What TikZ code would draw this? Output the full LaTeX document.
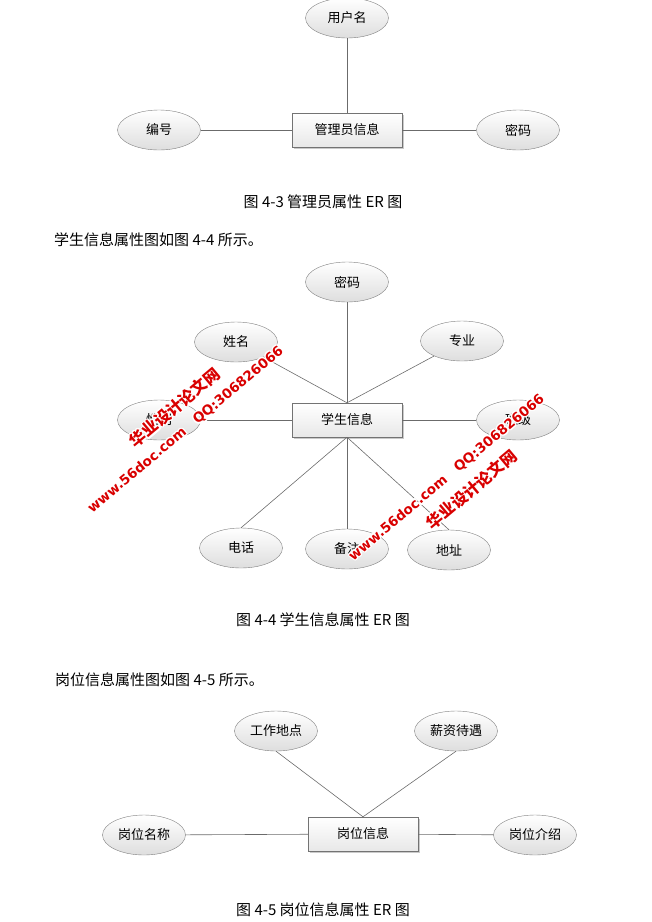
\documentclass[tikz,border=0pt]{standalone}
\usepackage{fontspec}
\setmainfont{Noto Sans CJK SC}
\newfontfamily\wmfont{DejaVu Sans}
\usepackage[copies]{contour}
\contourlength{1.2pt}
\contournumber{16}
\usetikzlibrary{shapes.geometric, shadows}

\begin{document}
\begin{tikzpicture}[x=1pt, y=-1pt,
  attr/.style={ellipse, draw=black!50, top color=white, bottom color=black!13,
    minimum width=83pt, minimum height=40pt, inner sep=0pt,
    font=\fontsize{13}{15}\selectfont},
  entity/.style={rectangle, draw=black!55, top color=white, bottom color=black!9,
    minimum width=110pt, minimum height=34pt, inner sep=0pt,
    font=\fontsize{13}{15}\selectfont,
    drop shadow={shadow xshift=1.6pt, shadow yshift=-1.6pt, opacity=0.35, fill=black!60}},
  link/.style={draw=black!58, line width=0.6pt},
  caption/.style={font=\fontsize{15}{18}\selectfont, inner sep=0pt},
  wmcn/.style={text=red!85!black, font=\bfseries\fontsize{16}{18}\selectfont, rotate=40, inner sep=0pt},
  wmen/.style={text=red!85!black, font=\wmfont\bfseries\fontsize{13.5}{16}\selectfont, rotate=40, inner sep=0pt}]
  \useasboundingbox (0,0) rectangle (652,922);

  % Figure 4-3
  \node[entity] (admin) at (347,130) {管理员信息};
  \node[attr] (uname) at (347,18) {用户名};
  \node[attr] (anum) at (159,130) {编号};
  \node[attr] (apwd) at (518,130) {密码};
  \draw[link] (admin) -- (uname);
  \draw[link] (admin) -- (anum);
  \draw[link] (admin) -- (apwd);
  \node[caption] (cap43) at (323,202) {图 4-3 管理员属性 ER 图};

  \node[caption, anchor=west] (text44) at (54,240) {学生信息属性图如图 4-4 所示。};

  % Figure 4-4
  \node[entity] (stu) at (347,420) {学生信息};
  \node[attr] (spwd) at (347,282) {密码};
  \node[attr] (sname) at (236,342) {姓名};
  \node[attr] (smajor) at (462,341) {专业};
  \node[attr] (ssex) at (159,420) {性别};
  \node[attr] (sclass) at (518,420) {班级};
  \node[attr] (stel) at (241,548) {电话};
  \node[attr] (snote) at (347,549) {备注};
  \node[attr] (saddr) at (449,550) {地址};
  \draw[link] (stu.north) -- (spwd);
  \draw[link] (stu.north) -- (sname);
  \draw[link] (stu.north) -- (smajor);
  \draw[link] (stu) -- (ssex);
  \draw[link] (stu) -- (sclass);
  \draw[link] (stu.south) -- (stel.north);
  \draw[link] (stu.south) -- (snote.north);
  \draw[link] (stu.south) -- (saddr.north);
  \node[caption] (cap44) at (323,620) {图 4-4 学生信息属性 ER 图};

  \node[caption, anchor=west] (text45) at (55,680) {岗位信息属性图如图 4-5 所示。};

  % Figure 4-5
  \node[entity] (job) at (363,834) {岗位信息};
  \node[attr] (jplace) at (276,731) {工作地点};
  \node[attr] (jpay) at (456,731) {薪资待遇};
  \node[attr] (jname) at (144,835) {岗位名称};
  \node[attr] (jintro) at (535,835) {岗位介绍};
  \draw[link] (job.north) -- (jplace.south);
  \draw[link] (job.north) -- (jpay.south);
  \draw[link] (job) -- (jname);
  \draw[link] (job) -- (jintro);
  \node[caption] (cap45) at (323,910) {图 4-5 岗位信息属性 ER 图};

  % Watermarks
  \node[wmcn] (wmlcn) at (175,408) {\contour{white}{华业设计论文网}};
  \node[wmen] (wmlen) at (186,430) {\contour{white}{www.56doc.com\hspace{1em}QQ:306826066}};
  \node[wmen] (wmren) at (447,478) {\contour{white}{www.56doc.com\hspace{1em}QQ:306826066}};
  \node[wmcn] (wmrcn) at (472,490) {\contour{white}{华业设计论文网}};
\end{tikzpicture}
\end{document}
